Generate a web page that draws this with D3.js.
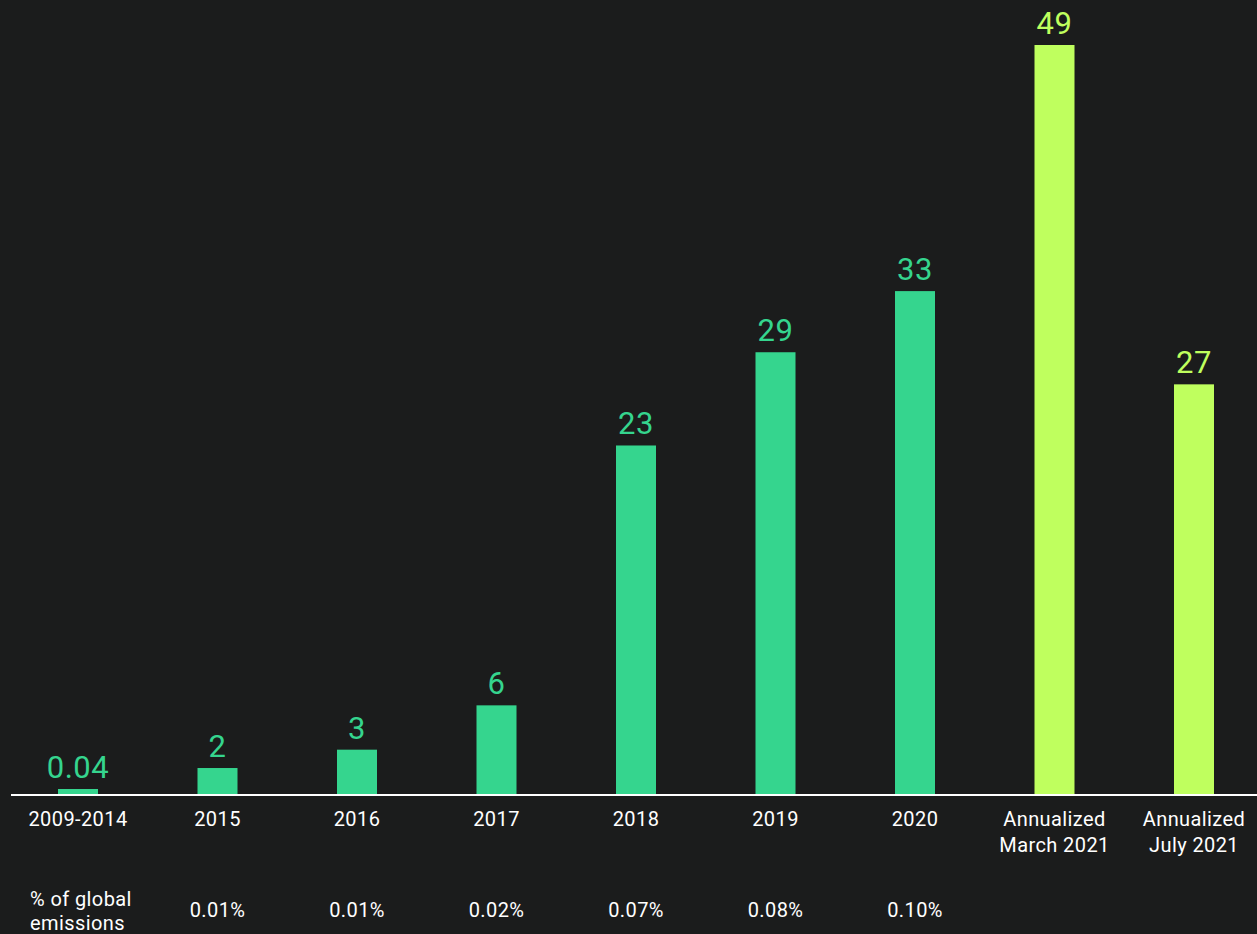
<!DOCTYPE html>
<html><head><meta charset="utf-8">
<script src="https://cdn.jsdelivr.net/npm/d3@7"></script>
<style>
html,body{margin:0;padding:0;background:#1b1c1c;}
svg{display:block;}
</style></head>
<body>
<svg id="chart" width="1257" height="934"></svg>
<script>
const categories = ["2009-2014","2015","2016","2017","2018","2019","2020","Annualized\nMarch 2021","Annualized\nJuly 2021"];
const values = [0.04, 1.7, 2.9, 5.8, 22.8, 28.9, 32.9, 49, 26.8];
const valueLabels = ["0.04","2","3","6","23","29","33","49","27"];
const shareOfGlobal = ["","0.01%","0.01%","0.02%","0.07%","0.08%","0.10%","",""];
const shareRowLabel = ["% of global","emissions"];
const annualized = [false,false,false,false,false,false,false,true,true];

const svg = d3.select("#chart");
const font = "Roboto, 'DejaVu Sans', sans-serif";
const green = "#35d58e", lime = "#bfff5e";

const x = d3.scalePoint().domain(categories).range([78, 1194]);
const y = d3.scaleLinear().domain([0, 49]).range([794, 45]);
const barW = 40;

svg.append("rect").attr("width",1257).attr("height",934).attr("fill","#1b1c1c");

svg.selectAll("rect.bar").data(categories).join("rect")
  .attr("class","bar")
  .attr("x", d => x(d) - barW/2)
  .attr("width", barW)
  .attr("y", (d,i) => Math.min(y(values[i]), y(0) - 5))
  .attr("height", (d,i) => Math.max(y(0) - y(values[i]), 5))
  .attr("fill", (d,i) => annualized[i] ? lime : green);

svg.selectAll("text.val").data(categories).join("text")
  .attr("class","val")
  .attr("x", d => x(d))
  .attr("y", (d,i) => Math.min(y(values[i]), y(0) - 5) - 11)
  .attr("text-anchor","middle")
  .attr("font-family", font)
  .attr("font-size", 31)
  .attr("letter-spacing", 0.5)
  .attr("fill", (d,i) => annualized[i] ? lime : green)
  .text((d,i) => valueLabels[i]);

svg.append("line").attr("x1",11).attr("x2",1257).attr("y1",y(0)+1).attr("y2",y(0)+1)
  .attr("stroke","#ffffff").attr("stroke-width",2);

const cat = svg.selectAll("text.cat").data(categories).join("text")
  .attr("class","cat")
  .attr("text-anchor","middle")
  .attr("font-family", font)
  .attr("font-size", 20)
  .attr("letter-spacing", 0.4)
  .attr("fill","#ffffff");
cat.each(function(d){
  const t = d3.select(this);
  d.split("\n").forEach((line,k) => {
    t.append("tspan").attr("x", x(d)).attr("y", 826 + k*26).text(line);
  });
});

svg.selectAll("text.share").data(shareOfGlobal).join("text")
  .attr("class","share")
  .attr("x", (d,i) => x(categories[i]))
  .attr("y", 917)
  .attr("text-anchor","middle")
  .attr("font-family", font)
  .attr("font-size", 20)
  .attr("letter-spacing", 0.4)
  .attr("fill","#ffffff")
  .text(d => d);

const rl = svg.append("text").attr("font-family", font).attr("font-size",20)
  .attr("letter-spacing", 0.4).attr("fill","#ffffff");
shareRowLabel.forEach((line,k) => rl.append("tspan").attr("x",30).attr("y",906 + k*24).text(line));
</script>
</body></html>
